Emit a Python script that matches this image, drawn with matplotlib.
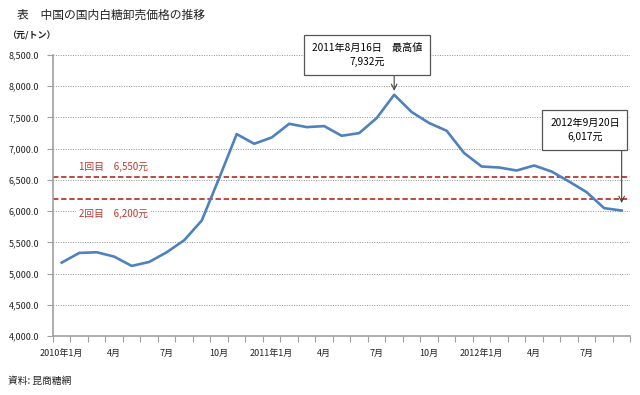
import numpy as np
import matplotlib
matplotlib.use("Agg")
import matplotlib.pyplot as plt

plt.rcParams['font.family'] = ['Noto Sans CJK JP', 'DejaVu Sans']

# monthly wholesale price, 2010/1 - 2012/9 (yuan/t)
months = list(range(33))
prices = [5175, 5330, 5341, 5271, 5122, 5186, 5341, 5534, 5848, 6530,
          7233, 7078, 7179, 7398, 7345, 7361, 7206, 7249, 7490, 7863,
          7586, 7410, 7286, 6929, 6714, 6698, 6650, 6730, 6633, 6473,
          6303, 6047, 6009]
tick_pos = [0, 3, 6, 9, 12, 15, 18, 21, 24, 27, 30]
tick_labels = ['2010年1月', '4月', '7月', '10月', '2011年1月', '4月', '7月',
               '10月', '2012年1月', '4月', '7月']
yticks = [4000, 4500, 5000, 5500, 6000, 6500, 7000, 7500, 8000, 8500]
lines = [6550, 6200]
line_labels = ['1回目　6,550元', '2回目　6,200元']
peak_idx, peak_text = 19, '2011年8月16日　最高値\n7,932元'
last_idx, last_text = 32, '2012年9月20日\n6,017元'

fig = plt.figure(figsize=(6.4, 3.95), dpi=100)
ax = fig.add_axes([0.0828, 0.1494, 0.9022, 0.7114])

gray = '#a0a0a0'
ax.set_xlim(-0.5, 32.5)
ax.set_ylim(4000, 8500)
ax.set_yticks(yticks)
ax.set_yticklabels(['{:,.1f}'.format(v) for v in yticks])
ax.yaxis.grid(True, color='#909090', linestyle=(0, (1, 1.5)), linewidth=0.7)
ax.set_axisbelow(True)

ax.set_xticks(np.arange(-0.5, 33, 1))
ax.set_xticklabels([])
ax.set_xticks(tick_pos, minor=True)
ax.set_xticklabels(tick_labels, minor=True)
ax.tick_params(axis='x', which='major', direction='out', length=4, color=gray)
ax.tick_params(axis='x', which='minor', length=0, labelsize=6.5, pad=9,
               labelcolor='#222222')
ax.tick_params(axis='y', direction='out', length=4, color=gray, labelsize=6.5,
               labelcolor='#222222', pad=6)

for s in ['top', 'right']:
    ax.spines[s].set_visible(False)
for s in ['left', 'bottom']:
    ax.spines[s].set_color(gray)
    ax.spines[s].set_linewidth(1.2)

red = '#b83a32'
for v in lines:
    ax.axhline(v, color=red, linestyle=(0, (3, 1.5)), linewidth=1.3, zorder=2)
ax.text(1.0, lines[0] + 150, line_labels[0], color=red, fontsize=7,
        va='center', ha='left')
ax.text(1.0, lines[1] - 240, line_labels[1], color=red, fontsize=7,
        va='center', ha='left',
        bbox=dict(facecolor='white', edgecolor='none', pad=2))

ax.plot(months, prices, color='#4f81bd', linewidth=1.9, zorder=3,
        solid_joinstyle='round')

box = dict(boxstyle='square,pad=0.75', facecolor='white', edgecolor='#555555',
           linewidth=0.9)
arrow = dict(arrowstyle='->', color='#444444', linewidth=0.8,
             shrinkA=0, shrinkB=0)

# peak callout
ax.text(peak_idx - 1.56, 8505, peak_text, ha='center', va='center',
        fontsize=7.3, linespacing=1.55, bbox=box, clip_on=False, zorder=5)
ax.annotate('', xy=(peak_idx, 7925), xytext=(peak_idx, 8205),
            arrowprops=arrow, annotation_clip=False)

# last value callout
ax.text(last_idx - 2.1, 7300, last_text, ha='center', va='center',
        fontsize=7.3, linespacing=1.55, bbox=box, clip_on=False, zorder=5)
ax.annotate('', xy=(last_idx, 6130), xytext=(last_idx, 7010),
            arrowprops=arrow, annotation_clip=False)

fig.text(17 / 640, 1 - 15 / 395, '表　中国の国内白糖卸売価格の推移',
         fontsize=8.5, va='center', ha='left', color='#222222')
fig.text(7 / 640, 1 - 36 / 395, '（元/トン）', fontsize=6.5,
         fontweight='bold', va='center', ha='left', color='#222222')
fig.text(8 / 640, 1 - 381 / 395, '資料: 昆商糖網', fontsize=7,
         va='center', ha='left', color='#222222')

fig.savefig('out.png', dpi=100)
